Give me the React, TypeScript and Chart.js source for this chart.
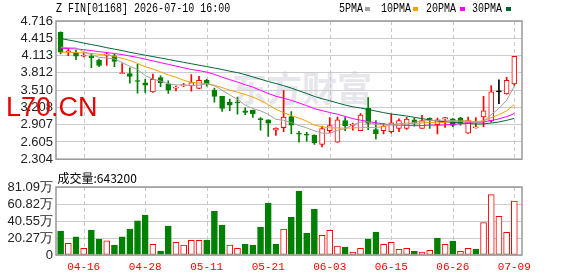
import React, { useEffect, useRef } from 'react';
import { Chart, registerables } from 'chart.js';
Chart.register(...registerables);

const dates = [
  '04-13','04-14','04-15','04-16','04-17','04-20','04-21','04-22','04-23','04-24',
  '04-27','04-28','04-29','04-30','05-04','05-05','05-06','05-07','05-08','05-11',
  '05-12','05-13','05-14','05-15','05-18','05-19','05-20','05-21','05-22','05-26',
  '05-27','05-28','05-29','06-01','06-02','06-03','06-04','06-05','06-08','06-09',
  '06-10','06-11','06-12','06-15','06-16','06-17','06-18','06-22','06-23','06-24',
  '06-25','06-26','06-29','06-30','07-02','07-03','07-06','07-07','07-08','07-09',
];
const tickDates = ['04-16','04-28','05-11','05-21','06-03','06-15','06-26','07-09'];

const opens = [
  4.52,4.18,4.165,4.10,4.10,4.03,4.12,4.11,3.795,3.80,
  3.665,3.635,3.48,3.73,3.62,3.545,3.585,3.585,3.54,3.68,
  3.51,3.40,3.30,3.29,3.15,3.16,3.00,2.99,2.81,2.855,
  3.05,2.745,2.73,2.725,2.56,2.80,2.60,2.98,2.895,2.80,
  3.19,2.82,2.80,2.785,2.84,2.84,2.99,2.84,3.02,2.905,
  3.005,3.01,3.025,2.76,2.85,3.04,2.97,3.48,3.445,3.62,
];
const highs = [
  4.525,4.24,4.21,4.16,4.15,4.05,4.17,4.14,3.975,3.90,
  3.96,3.70,3.79,3.76,3.67,3.58,3.63,3.78,3.75,3.70,
  3.545,3.40,3.355,3.39,3.20,3.16,3.03,2.99,2.85,3.50,
  3.135,2.79,2.775,2.73,2.88,3.03,3.04,3.035,2.935,3.10,
  3.38,2.98,2.925,3.09,3.01,3.035,3.02,3.07,3.025,3.02,
  3.035,3.015,3.035,3.04,3.03,3.40,3.59,3.69,3.735,4.10,
];
const lows = [
  4.14,4.11,4.04,4.09,3.90,3.92,3.94,3.92,3.795,3.63,
  3.455,3.47,3.47,3.57,3.45,3.495,3.57,3.49,3.535,3.58,
  3.30,3.14,3.15,3.09,3.08,3.035,2.81,2.70,2.72,2.785,
  2.75,2.60,2.62,2.56,2.52,2.765,2.595,2.80,2.81,2.80,
  2.82,2.655,2.745,2.76,2.785,2.825,2.88,2.84,2.84,2.745,
  2.86,2.87,2.90,2.755,2.845,2.87,2.95,3.275,3.44,3.59,
];
const closes = [
  4.17,4.19,4.10,4.11,4.07,3.94,4.13,4.01,3.80,3.75,
  3.66,3.595,3.70,3.64,3.51,3.555,3.60,3.64,3.68,3.62,
  3.40,3.19,3.245,3.285,3.12,3.10,2.995,2.935,2.845,3.04,
  2.90,2.74,2.725,2.59,2.84,2.89,2.99,2.89,2.90,3.075,
  2.93,2.745,2.88,2.94,2.98,3.005,2.935,2.98,3.00,2.99,
  3.03,2.895,2.93,2.98,2.86,3.15,3.48,3.48,3.68,4.10,
];
// volume in 万股
const volumes = [
  28.5,14,21.7,7.9,29.7,19,17,11.9,21.7,30.9,
  40.6,47.5,12.7,4.7,34.4,15,11.9,17.4,17.6,17.8,
  52.2,35.6,11.9,8,13,11.9,33.2,61.7,13,30.9,
  45,76,25.9,54.6,23.5,29.5,10.6,9.5,3.4,8,
  19,27.3,12.7,15.1,6.8,8,4.7,3.4,5.7,20.2,
  12.7,16.6,4.5,8,7.1,38.8,72,46,26.9,64.32,
];
const ma5 = [
  4.26,4.25,4.245,4.18,4.128,4.082,4.07,4.052,3.99,3.926,
  3.87,3.763,3.701,3.669,3.621,3.60,3.601,3.589,3.597,3.619,
  3.588,3.506,3.427,3.348,3.248,3.188,3.149,3.087,2.999,2.983,
  2.943,2.892,2.85,2.799,2.759,2.757,2.807,2.84,2.902,2.949,
  2.957,2.908,2.906,2.914,2.895,2.91,2.948,2.968,2.98,2.982,
  2.987,2.979,2.969,2.965,2.939,2.963,3.08,3.19,3.33,3.578,
];
const ma10 = [
  4.17,4.17,4.165,4.16,4.15,4.135,4.12,4.10,4.065,4.027,
  3.976,3.917,3.877,3.830,3.774,3.735,3.682,3.645,3.633,3.62,
  3.594,3.554,3.508,3.473,3.434,3.388,3.328,3.257,3.174,3.116,
  3.066,3.021,2.969,2.899,2.871,2.85,2.850,2.845,2.851,2.854,
  2.857,2.858,2.873,2.908,2.922,2.934,2.928,2.937,2.947,2.939,
  2.949,2.964,2.969,2.973,2.961,2.975,3.030,3.080,3.148,3.259,
];
const ma20 = [
  4.24,4.235,4.23,4.215,4.20,4.18,4.165,4.15,4.13,4.105,
  4.08,4.05,4.02,3.99,3.96,3.93,3.90,3.87,3.85,3.824,
  3.785,3.735,3.692,3.651,3.604,3.562,3.505,3.451,3.403,3.368,
  3.330,3.287,3.238,3.186,3.152,3.119,3.089,3.051,3.012,2.985,
  2.961,2.939,2.921,2.904,2.897,2.892,2.889,2.891,2.899,2.896,
  2.903,2.911,2.921,2.940,2.941,2.954,2.979,3.008,3.047,3.099,
];
const ma30 = [
  4.41,4.385,4.36,4.33,4.305,4.28,4.25,4.225,4.20,4.17,
  4.145,4.12,4.095,4.07,4.045,4.02,3.995,3.97,3.945,3.92,
  3.895,3.87,3.84,3.815,3.78,3.74,3.70,3.66,3.625,3.588,
  3.545,3.497,3.451,3.400,3.359,3.324,3.286,3.249,3.219,3.197,
  3.172,3.144,3.117,3.093,3.076,3.057,3.035,3.013,2.990,2.969,
  2.957,2.947,2.937,2.927,2.918,2.920,2.936,2.954,2.982,3.017,
];
const priceTicks = [2.304,2.6055,2.907,3.2085,3.510,3.8115,4.113,4.4145,4.716];
const priceTickLabels = ['2.304','2.605','2.907','3.208','3.510','3.812','4.113','4.415','4.716'];
const volTicks = [0,20.2725,40.545,60.8175,81.09];
const volTickLabels = ['0','20.27万','40.55万','60.82万','81.09万'];
const lastVolumeText = '643200';

const RED = '#ff0000';
const GREEN = '#008000';
const BLACK = '#000000';
const X_MIN = -0.6;
const X_MAX = 60;
const tickIdx = tickDates.map((d) => dates.indexOf(d));

const candleColor = (i: number) =>
  closes[i] > opens[i] ? RED : closes[i] < opens[i] ? GREEN : BLACK;
const volUp = (i: number) => i > 0 && closes[i] >= closes[i - 1];

const boxPlugin = {
  id: 'box',
  afterDraw(chart: any) {
    const { ctx, chartArea } = chart;
    const { left, top, right, bottom } = chartArea;
    ctx.save();
    ctx.strokeStyle = '#999999';
    ctx.lineWidth = 1.5;
    ctx.strokeRect(left, top, right - left, bottom - top);
    ctx.restore();
  },
};

// dashed vertical grid lines at the x-axis ticks
const vDashPlugin = {
  id: 'vdash',
  beforeDatasetsDraw(chart: any) {
    const { ctx, chartArea, scales } = chart;
    const xs = scales.x;
    ctx.save();
    ctx.strokeStyle = '#c8c8c8';
    ctx.lineWidth = 1;
    ctx.setLineDash([4, 3]);
    xs.ticks.forEach((t: any) => {
      const px = Math.round(xs.getPixelForValue(t.value)) + 0.5;
      ctx.beginPath();
      ctx.moveTo(px, chartArea.top);
      ctx.lineTo(px, chartArea.bottom);
      ctx.stroke();
    });
    ctx.restore();
  },
};

const yFont = { family: '"Liberation Sans", Arial, sans-serif', size: 13 };

export default function App() {
  const priceRef = useRef<HTMLCanvasElement>(null);
  const volRef = useRef<HTMLCanvasElement>(null);

  useEffect(() => {
    const idx = dates.map((_, i) => i);
    const line = (arr: number[], color: string) => ({
      type: 'line' as const,
      data: arr.map((v, i) => ({ x: i, y: v })),
      borderColor: color,
      borderWidth: 1,
      pointRadius: 0,
      tension: 0,
      order: 0,
    });
    const xScale = (showTicks: boolean, height: number) => ({
      type: 'linear',
      min: X_MIN,
      max: X_MAX,
      offset: false,
      ticks: showTicks
        ? {
            font: { family: '"Liberation Mono", "DejaVu Sans Mono", monospace', size: 11 },
            color: RED,
            padding: 5,
            maxRotation: 0,
            autoSkip: false,
            callback: (v: any) => dates[Math.round(Number(v))],
          }
        : { display: false, autoSkip: false },
      grid: { display: false, drawTicks: false },
      border: { display: false },
      afterBuildTicks: (s: any) => {
        s.ticks = tickIdx.map((v) => ({ value: v }));
      },
      afterFit: (s: any) => {
        s.height = height;
      },
    });
    const yScale = (ticks: number[], labels: string[]) => ({
      type: 'linear',
      min: ticks[0],
      max: ticks[ticks.length - 1],
      ticks: {
        font: yFont,
        color: '#222222',
        padding: 3,
        autoSkip: false,
        callback: (_v: any, i: number) => labels[i],
      },
      grid: { color: '#cccccc', lineWidth: 1, drawTicks: false },
      border: { display: false },
      afterBuildTicks: (s: any) => {
        s.ticks = ticks.map((v) => ({ value: v }));
      },
      afterFit: (s: any) => {
        s.width = 56;
      },
    });

    const priceChart = new Chart(priceRef.current!, {
      type: 'bar',
      data: {
        datasets: [
          line(ma5, '#a0a0a0'),
          line(ma10, '#f5a000'),
          line(ma20, '#ff00ff'),
          line(ma30, '#006633'),
          {
            type: 'bar',
            data: idx.map((i) => ({ x: i, y: [lows[i], highs[i]] })),
            backgroundColor: idx.map(candleColor),
            borderWidth: 0,
            barThickness: 1,
            grouped: false,
            minBarLength: 1,
            order: 2,
          } as any,
          {
            type: 'bar',
            data: idx.map((i) => ({
              x: i,
              y: [Math.min(opens[i], closes[i]), Math.max(opens[i], closes[i])],
            })),
            backgroundColor: idx.map((i) => (candleColor(i) === RED ? '#ffffff' : candleColor(i))),
            borderColor: idx.map(candleColor),
            borderWidth: 1,
            borderSkipped: false,
            barThickness: 5,
            grouped: false,
            minBarLength: 1,
            order: 1,
          } as any,
        ],
      },
      options: {
        animation: false,
        responsive: false,
        maintainAspectRatio: false,
        events: [],
        layout: { padding: { left: 0, right: 56, top: 21, bottom: 5 } },
        plugins: { legend: { display: false }, tooltip: { enabled: false } },
        scales: {
          x: xScale(false, 0),
          y: yScale(priceTicks, priceTickLabels),
        },
      } as any,
      plugins: [vDashPlugin, boxPlugin],
    });

    const volChart = new Chart(volRef.current!, {
      type: 'bar',
      data: {
        datasets: [
          {
            data: idx.map((i) => ({ x: i, y: volumes[i] })),
            backgroundColor: idx.map((i) => (volUp(i) ? '#ffffff' : GREEN)),
            borderColor: idx.map((i) => (volUp(i) ? RED : GREEN)),
            borderWidth: 1,
            borderSkipped: false,
            barThickness: 6,
            grouped: false,
          } as any,
        ],
      },
      options: {
        animation: false,
        responsive: false,
        maintainAspectRatio: false,
        events: [],
        layout: { padding: { left: 0, right: 56, top: 17, bottom: 0 } },
        plugins: { legend: { display: false }, tooltip: { enabled: false } },
        scales: {
          x: xScale(true, 21),
          y: yScale(volTicks, volTickLabels),
        },
      } as any,
      plugins: [vDashPlugin, boxPlugin],
    });

    return () => {
      priceChart.destroy();
      volChart.destroy();
    };
  }, []);

  const mono: React.CSSProperties = {
    position: 'absolute',
    fontFamily: '"Liberation Mono", "DejaVu Sans Mono", monospace',
    fontSize: 13,
    lineHeight: '13px',
    color: '#000',
    whiteSpace: 'nowrap',
    transform: 'scaleX(0.77)',
    transformOrigin: 'left center',
  };
  const legend = [
    { name: '5PMA', color: '#a0a0a0', x: 339, sq: 365 },
    { name: '10PMA', color: '#f0a30a', x: 380.5, sq: 413 },
    { name: '20PMA', color: '#ff00ff', x: 426, sq: 460 },
    { name: '30PMA', color: '#006633', x: 471.5, sq: 506 },
  ];

  return (
    <div
      style={{
        position: 'absolute',
        left: 0,
        top: 0,
        width: 578,
        height: 276,
        background: '#ffffff',
        overflow: 'hidden',
      }}
    >
      <div
        style={{
          position: 'absolute',
          left: 232,
          top: 68,
          fontFamily: '"Noto Sans CJK SC", sans-serif',
          fontSize: 35,
          lineHeight: '38px',
          fontWeight: 700,
          color: '#e6e6ec',
          whiteSpace: 'nowrap',
        }}
      >
        东方财富
      </div>
      <canvas ref={priceRef} width={578} height={170} style={{ position: 'absolute', left: 0, top: 0 }} />
      <canvas ref={volRef} width={578} height={106} style={{ position: 'absolute', left: 0, top: 170 }} />
      <div style={{ ...mono, left: 56, top: 2 }}>Z FIN[01168] 2026-07-10 16:00</div>
      {legend.map((l) => (
        <React.Fragment key={l.name}>
          <div style={{ ...mono, left: l.x, top: 2 }}>{l.name}</div>
          <div
            style={{
              position: 'absolute',
              left: l.sq,
              top: 7,
              width: 5,
              height: 4,
              background: l.color,
            }}
          />
        </React.Fragment>
      ))}
      <div
        style={{
          position: 'absolute',
          left: 57.5,
          top: 170.5,
          fontFamily: '"Noto Sans CJK SC", sans-serif',
          fontSize: 12,
          lineHeight: '14px',
          color: '#000',
          whiteSpace: 'nowrap',
        }}
      >
        成交量:{lastVolumeText}
      </div>
      <div
        style={{
          position: 'absolute',
          left: 6,
          top: 94,
          fontFamily: '"Liberation Sans", Arial, sans-serif',
          fontSize: 27,
          lineHeight: '27px',
          color: '#e60000',
          whiteSpace: 'nowrap',
        }}
      >
        L70.CN
      </div>
    </div>
  );
}
